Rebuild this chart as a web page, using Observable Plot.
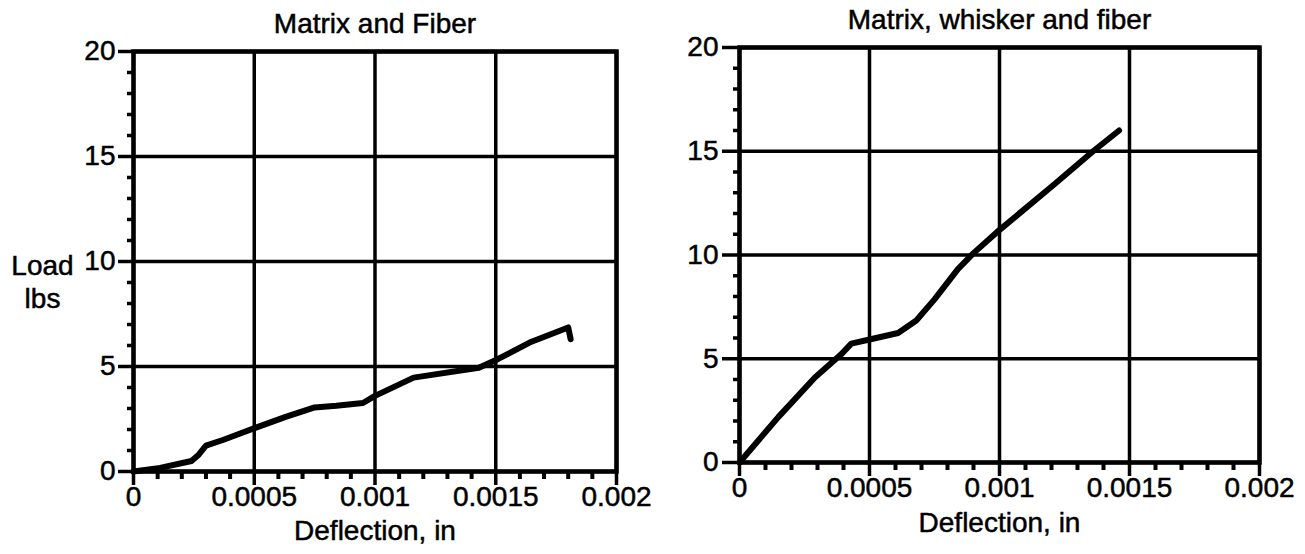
<!DOCTYPE html>
<html>
<head>
<meta charset="utf-8">
<script src="https://cdn.jsdelivr.net/npm/d3@7"></script>
<script src="https://cdn.jsdelivr.net/npm/@observablehq/plot@0.6"></script>
<style>
  html, body { margin: 0; padding: 0; background: #fff; }
  #wrap { display: flex; width: 1305px; height: 554px; overflow: hidden; }
  svg { display: block; }
  svg text { stroke: #000; stroke-width: 0.5px; }
</style>
</head>
<body>
<div id="wrap"></div>
<script>
// ---- data ----
const leftTitle = "Matrix and Fiber";
const rightTitle = "Matrix, whisker and fiber";
const xLabel = "Deflection, in";
const yLabel = "Load\nlbs";

const leftDeflection = [0, 0.00011, 0.00024, 0.00027, 0.0003, 0.00037, 0.00051, 0.00063, 0.00075, 0.00084, 0.00095, 0.001, 0.00116, 0.00143, 0.00151, 0.00164, 0.0018, 0.00181];
const leftLoad       = [0, 0.17,    0.5,     0.8,     1.23,   1.5,     2.1,     2.6,     3.05,    3.13,    3.26,    3.6,   4.47,    4.94,    5.36,    6.14,    6.86,   6.3];

const rightDeflection = [0, 0.00015, 0.00029, 0.00039, 0.00043, 0.0005, 0.00061, 0.00068, 0.00075, 0.00084, 0.0009, 0.00099, 0.00121, 0.00136, 0.00146];
const rightLoad       = [0, 2.2,     4.1,     5.2,     5.73,    5.93,   6.24,    6.84,    7.86,    9.32,    10.09,  11.1,    13.4,    15.0,    16.0];

const xTicks = [0, 0.0005, 0.001, 0.0015, 0.002];
const yTicks = [0, 5, 10, 15, 20];
const xMinorTicks = [0.0001, 0.0002, 0.0003, 0.0004, 0.0006, 0.0007, 0.0008, 0.0009, 0.0011, 0.0012, 0.0013, 0.0014, 0.0016, 0.0017, 0.0018, 0.0019];
const yMinorTicks = [1, 2, 3, 4, 6, 7, 8, 9, 11, 12, 13, 14, 16, 17, 18, 19];

const FONT = "'Liberation Sans', Arial, Helvetica, sans-serif";
const FS = 28;

function panel({title, xs, ys, width, ml, mr, mt, mb, yTickSize, yTickPad, xLabelDy, showYLabel}) {
  const data = xs.map((x, i) => ({x, y: ys[i]}));
  const marks = [
    Plot.gridX(xTicks, {stroke: "#000", strokeOpacity: 1, strokeWidth: 3.5}),
    Plot.gridY(yTicks, {stroke: "#000", strokeOpacity: 1, strokeWidth: 3.5}),
    Plot.frame({stroke: "#000", strokeWidth: 4.5}),
    Plot.axisX(xMinorTicks, {tickSize: 8, tickFormat: () => "", strokeWidth: 4, label: null}),
    Plot.axisY(yMinorTicks, {tickSize: 6, tickFormat: () => "", strokeWidth: 3.5, label: null}),
    Plot.axisX(xTicks, {tickSize: 14, tickPadding: 1, tickFormat: d => String(d), strokeWidth: 3.5, fontSize: FS, label: null}),
    Plot.axisY(yTicks, {tickSize: yTickSize, tickPadding: yTickPad, tickFormat: d => String(d), strokeWidth: 3.5, fontSize: FS, label: null}),
    Plot.line(data, {x: "x", y: "y", stroke: "#000", strokeWidth: 6, strokeLinejoin: "round", strokeLinecap: "round"}),
    Plot.text([title], {frameAnchor: "top", lineAnchor: "middle", textAnchor: "middle", dy: -27, fontSize: FS, fill: "#000"}),
    Plot.text([xLabel], {frameAnchor: "bottom", lineAnchor: "middle", textAnchor: "middle", dy: xLabelDy, fontSize: FS, fill: "#000"})
  ];
  if (showYLabel) {
    marks.push(Plot.text([yLabel], {frameAnchor: "left", lineAnchor: "middle", textAnchor: "middle", dx: -91, dy: 19, fontSize: FS, lineHeight: 1.18, fill: "#000"}));
  }
  return Plot.plot({
    width, height: 554,
    marginLeft: ml, marginRight: mr, marginTop: mt, marginBottom: mb,
    style: {fontFamily: FONT, fontSize: FS + "px", color: "#000", background: "#fff", overflow: "visible"},
    x: {domain: [0, 0.002], axis: null},
    y: {domain: [0, 20], axis: null},
    marks
  });
}

const wrap = document.getElementById("wrap");
wrap.append(panel({title: leftTitle, xs: leftDeflection, ys: leftLoad, width: 660, ml: 133, mr: 44, mt: 51, mb: 83, yTickSize: 15, yTickPad: 3, xLabelDy: 60, showYLabel: true}));
wrap.append(panel({title: rightTitle, xs: rightDeflection, ys: rightLoad, width: 645, ml: 79, mr: 46, mt: 47, mb: 92, yTickSize: 17, yTickPad: 4, xLabelDy: 61, showYLabel: false}));
</script>
</body>
</html>
